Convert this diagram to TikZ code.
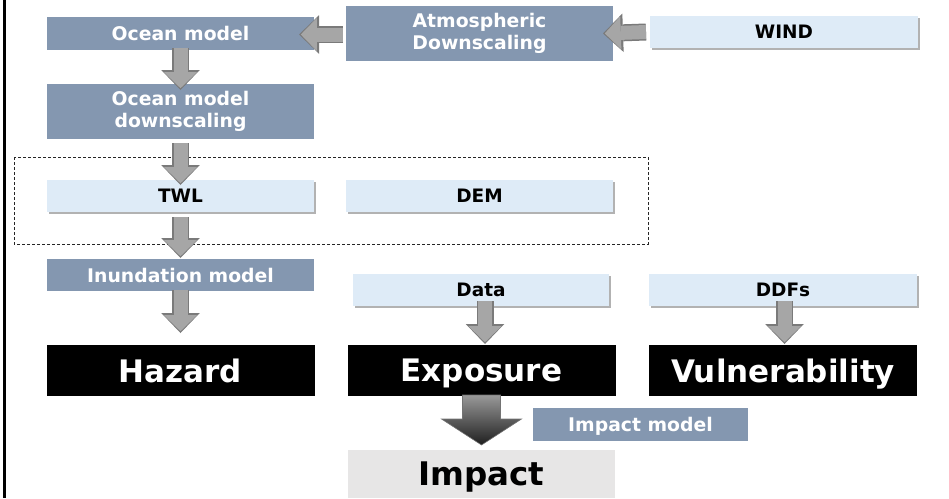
\documentclass[tikz,border=0pt]{standalone}
\usepackage{fontspec}
\setmainfont{DejaVu Sans}
\usetikzlibrary{arrows.meta,calc,shadows}
\definecolor{slate}{HTML}{8497B0}
\definecolor{paleblue}{HTML}{DEEBF7}
\definecolor{impactgray}{HTML}{E7E6E6}
\definecolor{arrowfill}{HTML}{A6A6A6}
\definecolor{arrowedge}{HTML}{7A7A7A}
\begin{document}
\begin{tikzpicture}[x=1pt,y=-1pt,
	box/.style={rectangle,inner sep=0pt,outer sep=0pt,align=center},
	model/.style={box,fill=slate,text=white,minimum width=267pt,minimum height=33pt,
	font=\bfseries\fontsize{18.8}{21.5}\selectfont},
	input/.style={box,fill=paleblue,minimum width=267pt,minimum height=32pt,
	font=\bfseries\fontsize{18.5}{22}\selectfont,
	drop shadow={shadow xshift=1.5pt,shadow yshift=-2pt,fill=black,opacity=0.3}},
	outcome/.style={box,fill=black,text=white,minimum width=268pt,minimum height=51pt,
	text depth=0pt,font=\bfseries\fontsize{31}{37}\selectfont},
	result/.style={outcome,fill=impactgray,text=black,minimum width=267pt,minimum height=48pt,
	font=\bfseries\fontsize{32.5}{38}\selectfont},
	flow/.style={arrowfill,line width=14pt,shorten >=1.8pt,
	-{Triangle[width=33pt,length=16pt,line width=0pt]},
	preaction={draw=arrowedge,line width=17pt,shorten >=0pt,
	-{Triangle[width=38.5pt,length=20pt,line width=0pt]}}},
	bigflow/.style={top color=black!40,bottom color=black!88,draw=black!55,line width=0.6pt},
	groupframe/.style={draw=black!85,line width=0.8pt,dash pattern=on 3pt off 2pt}]
\useasboundingbox (0,0) rectangle (949,498);
\draw[line width=2.4pt] (4.5,0) -- (4.5,498);
\draw[groupframe] (14,157) rectangle (648,244);
\node[model] (ocean) at (180.5,33.5) {Ocean model};
\node[model,minimum height=55pt] (atmos) at (479.5,33.5) {Atmospheric\\Downscaling};
\node[input,minimum width=268pt] (wind) at (784,32) {WIND};
\node[model,minimum height=55pt] (down) at (180.5,111.5) {Ocean model\\downscaling};
\node[input] (twl) at (180.5,196) {TWL};
\node[input] (dem) at (479.5,196) {DEM};
\node[model,minimum height=32pt] (inund) at (180.5,275) {Inundation model};
\node[input,minimum width=256pt] (data) at (481,290) {Data};
\node[input,minimum width=268pt] (ddfs) at (783,290) {DDFs};
\node[outcome] (hazard) at (180.5,370.5) {Hazard};
\node[outcome] (expo) at (481.5,370.5) {Exposure};
\node[outcome] (vuln) at (783,370.5) {Vulnerability};
\node[model,minimum width=215pt,text depth=0pt] (impmodel) at (640.5,424.5) {Impact model};
\node[result] (impact) at (481.5,474) {Impact};
\draw[flow] ($(atmos.west)+(-3,1)$) -- ($(ocean.east)+(-15,1)$);
\draw[flow] ($(wind.west)+(-4,0)$) -- ($(atmos.east)+(-10,0)$);
\draw[flow] ($(ocean.south)+(0,-2)$) -- ($(down.north)+(0,6)$);
\draw[flow] ($(down.south)+(0,4)$) -- ($(twl.north)+(0,5)$);
\draw[flow] ($(twl.south)+(0,5)$) -- ($(inund.north)+(0,-1)$);
\draw[flow] ($(inund.south)+(0,-1)$) -- ($(hazard.north)+(0,-12)$);
\draw[flow] ($(data.south)+(4,-5)$) -- ($(expo.north)+(3.5,-1)$);
\draw[flow] ($(ddfs.south)+(1.5,-5)$) -- ($(vuln.north)+(1.5,-1)$);
\shade[bigflow] ($(expo.south)+(-19,-1)$) -- ($(expo.south)+(-19,23)$) -- ($(expo.south)+(-40,23)$)
	-- ($(impact.north)+(0,-5)$) -- ($(expo.south)+(40,23)$) -- ($(expo.south)+(19,23)$)
	-- ($(expo.south)+(19,-1)$) -- cycle;
\end{tikzpicture}
\end{document}
